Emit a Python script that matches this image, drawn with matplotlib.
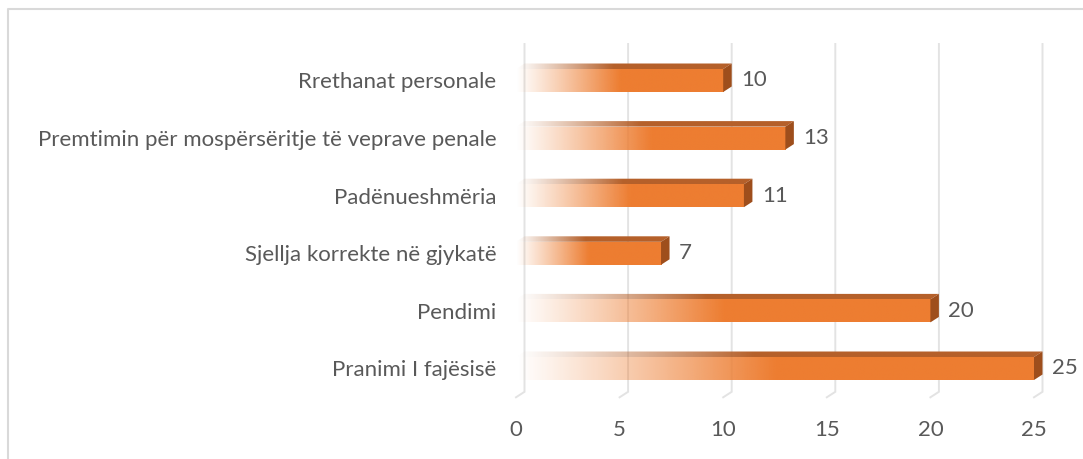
import numpy as np
import matplotlib
matplotlib.use("Agg")
import matplotlib.pyplot as plt
from matplotlib.patches import Polygon
from matplotlib.lines import Line2D
from matplotlib.colors import to_rgb

categories = ["Pranimi I fajësisë", "Pendimi", "Sjellja korrekte në gjykatë",
              "Padënueshmëria", "Premtimin për mospërsëritje të veprave penale",
              "Rrethanat personale"]
values = [25, 20, 7, 11, 13, 10]
xticks = [0, 5, 10, 15, 20, 25]

W, H = 1083, 459
fig = plt.figure(figsize=(W / 100, H / 100), dpi=100)
fig.patch.set_facecolor("white")

pxx = 518 / 25.0
xmax = 26.5
ax_bottom_px, ax_top_px = 397.3, 51.7
ax = fig.add_axes([516 / W, 1 - ax_bottom_px / H, xmax * pxx / W, (ax_bottom_px - ax_top_px) / H])
ax.set_xlim(0, xmax)
ax.set_ylim(-0.5, 5.5)
ax.patch.set_alpha(0)
for s in ax.spines.values():
    s.set_visible(False)

pxy = (ax_bottom_px - ax_top_px) / 6.0
dx = 8.5 / pxx
dy = 5.5 / pxy
h = 23 / pxy

txt_col = "#595959"
font = "Lato"
fs = 16

# gridlines (back wall + floor stub)
ytop = 5.5 + (ax_top_px - 44) / pxy
yback = -0.5 + dy
for v in xticks:
    ax.add_line(Line2D([v + dx, v + dx, v], [ytop, yback, -0.5], color="#E3E3E3",
                       lw=1.4, zorder=1, clip_on=False, solid_joinstyle="miter"))

orange = np.array(to_rgb("#ED7D31"))
topc = np.array(to_rgb("#B5602A"))
sidec = np.array(to_rgb("#9E4E1C"))

def grad(color, n=300, full=0.5):
    t = np.linspace(0, 1, n)
    a = np.clip(t / full, 0, 1) ** 1.1
    img = np.zeros((1, n, 4))
    img[0, :, :3] = color
    img[0, :, 3] = a
    return img

for i, v in enumerate(values):
    y0, y1 = i - h / 2, i + h / 2
    # front face
    ax.imshow(grad(orange), extent=(0, v, y0, y1), aspect="auto",
              interpolation="bilinear", zorder=3)
    # top face
    tp = Polygon([(0, y1), (v, y1), (v + dx, y1 + dy), (dx, y1 + dy)],
                 closed=True, facecolor="none", edgecolor="none")
    ax.add_patch(tp)
    im = ax.imshow(grad(topc, full=0.45), extent=(0, v + dx, y1, y1 + dy), aspect="auto",
                   interpolation="bilinear", zorder=3)
    im.set_clip_path(tp)
    # side face
    ax.add_patch(Polygon([(v, y0), (v + dx, y0 + dy), (v + dx, y1 + dy), (v, y1)],
                         closed=True, facecolor=sidec, edgecolor="none", zorder=3))
    # value label
    ax.annotate(str(v), xy=(v, i), xytext=(18, 0), textcoords="offset pixels",
                ha="left", va="center", fontsize=fs, color=txt_col,
                family=font, annotation_clip=False)

ax.set_yticks(range(len(categories)))
ax.set_yticklabels(categories, fontsize=fs, color=txt_col, family=font)
ax.set_xticks(xticks)
ax.set_xticklabels([str(x) for x in xticks], fontsize=fs, color=txt_col, family=font)
ax.tick_params(axis="y", length=0, pad=14)
ax.tick_params(axis="x", length=0, pad=16)

# chart frame (left and top visible)
fig.add_artist(Line2D([7.5 / W, 7.5 / W, 1.0], [0, 1 - 9 / H, 1 - 9 / H],
                      transform=fig.transFigure, color="#D9D9D9", lw=1.5))

fig.savefig("out.png", dpi=100)
